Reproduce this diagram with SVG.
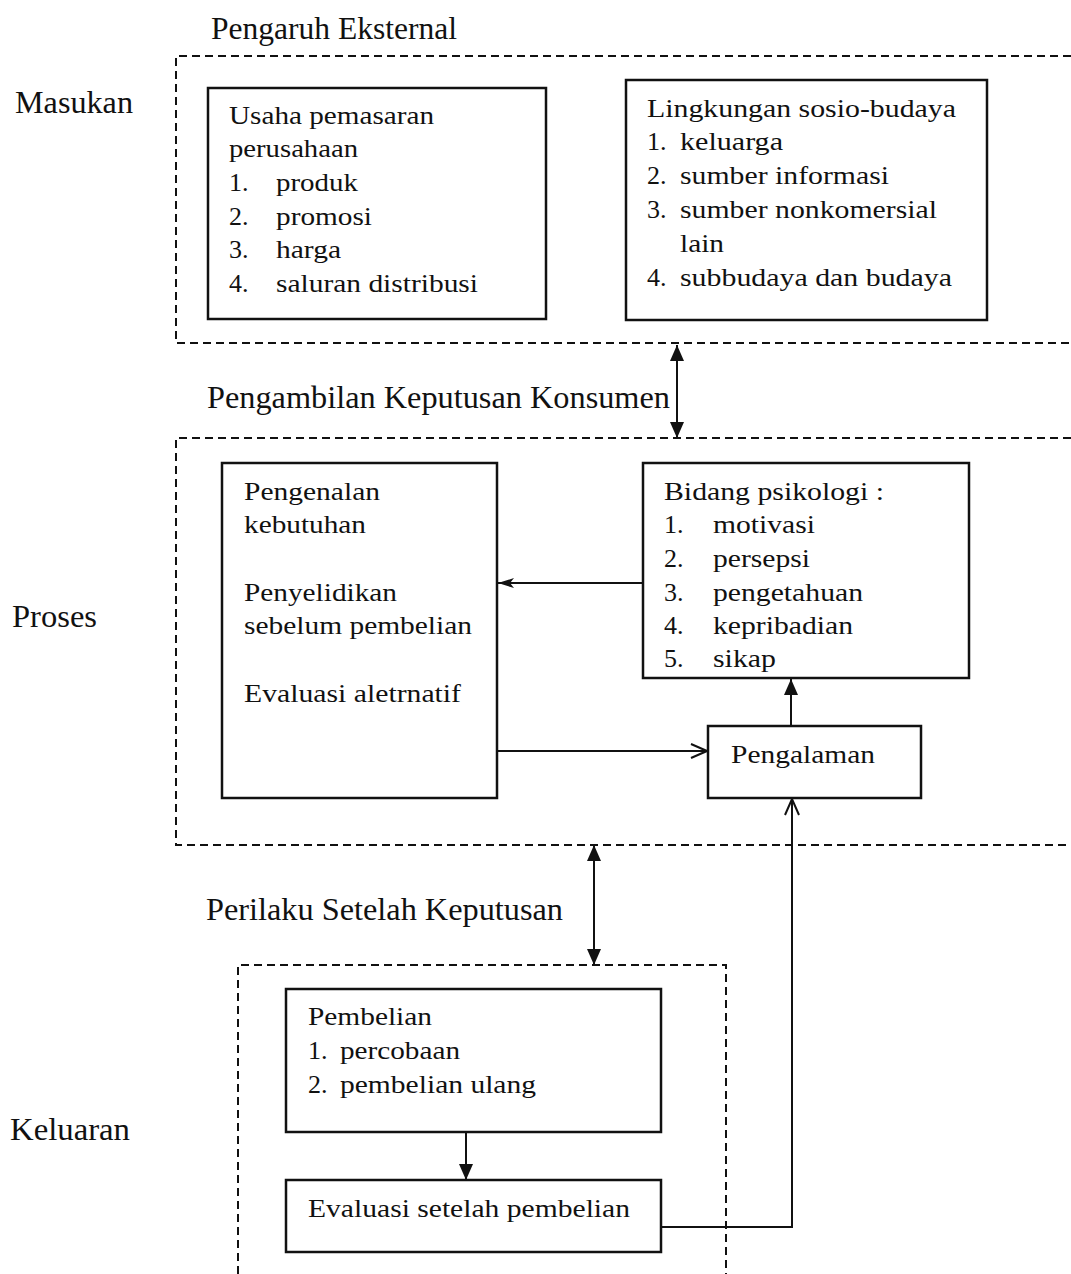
<svg xmlns="http://www.w3.org/2000/svg" width="1071" height="1274" viewBox="0 0 1071 1274">
<style>
  .bg{fill:#ffffff}
  .frame{fill:none;stroke:#111;stroke-width:2;stroke-dasharray:8 5}
  .box{fill:#ffffff;stroke:#111;stroke-width:2.5}
  .conn{fill:none;stroke:#111;stroke-width:2}
  .h{font-family:"Liberation Serif","Times New Roman",serif;font-size:31px;fill:#111}
  .t{font-family:"Liberation Serif","Times New Roman",serif;font-size:26px;fill:#111}
</style>
<defs>
  <marker id="af" viewBox="0 0 16 14" refX="16" refY="7" markerWidth="16" markerHeight="14" markerUnits="userSpaceOnUse" orient="auto-start-reverse">
    <path d="M0,0 L16,7 L0,14 Z" fill="#111"/>
  </marker>
  <marker id="afn" viewBox="0 0 16 10" refX="16" refY="5" markerWidth="16" markerHeight="10" markerUnits="userSpaceOnUse" orient="auto-start-reverse">
    <path d="M0,0 L16,5 L0,10 L4,5 Z" fill="#111"/>
  </marker>
  <marker id="ao" viewBox="0 0 18 16" refX="17" refY="8" markerWidth="18" markerHeight="16" markerUnits="userSpaceOnUse" orient="auto">
    <path d="M1,1 L17,8 L1,15" fill="none" stroke="#111" stroke-width="2"/>
  </marker>
</defs>
<rect class="bg" x="0" y="0" width="1071" height="1274"/>

<g id="frames">
  <path class="frame" d="M1071,56 H176 V343 H1071"/>
  <path class="frame" d="M1071,438 H176 V845 H1071"/>
  <path class="frame" d="M238,1274 V965 H726 V1274"/>
</g>

<g id="labels">
  <text class="h" x="211" y="39" textLength="246" lengthAdjust="spacingAndGlyphs">Pengaruh Eksternal</text>
  <text class="h" x="15" y="113" textLength="118" lengthAdjust="spacingAndGlyphs">Masukan</text>
  <text class="h" x="207" y="408" textLength="463" lengthAdjust="spacingAndGlyphs">Pengambilan Keputusan Konsumen</text>
  <text class="h" x="12" y="627" textLength="85" lengthAdjust="spacingAndGlyphs">Proses</text>
  <text class="h" x="206" y="920" textLength="357" lengthAdjust="spacingAndGlyphs">Perilaku Setelah Keputusan</text>
  <text class="h" x="10" y="1140" textLength="120" lengthAdjust="spacingAndGlyphs">Keluaran</text>
</g>

<g id="connectors">
  <line class="conn" x1="677" y1="345" x2="677" y2="438" marker-start="url(#af)" marker-end="url(#af)"/>
  <line class="conn" x1="643" y1="583" x2="498" y2="583" marker-end="url(#afn)"/>
  <line class="conn" x1="497" y1="751" x2="707" y2="751" marker-end="url(#ao)"/>
  <line class="conn" x1="791" y1="726" x2="791" y2="679" marker-end="url(#af)"/>
  <line class="conn" x1="594" y1="845" x2="594" y2="965" marker-start="url(#af)" marker-end="url(#af)"/>
  <line class="conn" x1="466" y1="1132" x2="466" y2="1180" marker-end="url(#af)"/>
  <polyline class="conn" points="661,1227 792,1227 792,799" marker-end="url(#ao)"/>
</g>

<g id="usaha-pemasaran">
  <rect class="box" x="208" y="88" width="338" height="231"/>
  <text class="t" x="229" y="124" textLength="205" lengthAdjust="spacingAndGlyphs">Usaha pemasaran</text>
  <text class="t" x="229" y="157" textLength="129" lengthAdjust="spacingAndGlyphs">perusahaan</text>
  <text class="t" x="229" y="191">1.</text><text class="t" x="276" y="191" textLength="82" lengthAdjust="spacingAndGlyphs">produk</text>
  <text class="t" x="229" y="225">2.</text><text class="t" x="276" y="225" textLength="96" lengthAdjust="spacingAndGlyphs">promosi</text>
  <text class="t" x="229" y="258">3.</text><text class="t" x="276" y="258" textLength="65" lengthAdjust="spacingAndGlyphs">harga</text>
  <text class="t" x="229" y="292">4.</text><text class="t" x="276" y="292" textLength="202" lengthAdjust="spacingAndGlyphs">saluran distribusi</text>
</g>

<g id="lingkungan-sosio-budaya">
  <rect class="box" x="626" y="80" width="361" height="240"/>
  <text class="t" x="647" y="117" textLength="309" lengthAdjust="spacingAndGlyphs">Lingkungan sosio-budaya</text>
  <text class="t" x="647" y="150">1.</text><text class="t" x="680" y="150" textLength="103" lengthAdjust="spacingAndGlyphs">keluarga</text>
  <text class="t" x="647" y="184">2.</text><text class="t" x="680" y="184" textLength="209" lengthAdjust="spacingAndGlyphs">sumber informasi</text>
  <text class="t" x="647" y="218">3.</text><text class="t" x="680" y="218" textLength="257" lengthAdjust="spacingAndGlyphs">sumber nonkomersial</text>
  <text class="t" x="680" y="252" textLength="44" lengthAdjust="spacingAndGlyphs">lain</text>
  <text class="t" x="647" y="286">4.</text><text class="t" x="680" y="286" textLength="272" lengthAdjust="spacingAndGlyphs">subbudaya dan budaya</text>
</g>

<g id="proses-keputusan">
  <rect class="box" x="222" y="463" width="275" height="335"/>
  <text class="t" x="244" y="500" textLength="136" lengthAdjust="spacingAndGlyphs">Pengenalan</text>
  <text class="t" x="244" y="533" textLength="122" lengthAdjust="spacingAndGlyphs">kebutuhan</text>
  <text class="t" x="244" y="601" textLength="153" lengthAdjust="spacingAndGlyphs">Penyelidikan</text>
  <text class="t" x="244" y="634" textLength="228" lengthAdjust="spacingAndGlyphs">sebelum pembelian</text>
  <text class="t" x="244" y="702" textLength="217" lengthAdjust="spacingAndGlyphs">Evaluasi aletrnatif</text>
</g>

<g id="bidang-psikologi">
  <rect class="box" x="643" y="463" width="326" height="215"/>
  <text class="t" x="664" y="500" textLength="220" lengthAdjust="spacingAndGlyphs">Bidang psikologi :</text>
  <text class="t" x="664" y="533">1.</text><text class="t" x="713" y="533" textLength="102" lengthAdjust="spacingAndGlyphs">motivasi</text>
  <text class="t" x="664" y="567">2.</text><text class="t" x="713" y="567" textLength="97" lengthAdjust="spacingAndGlyphs">persepsi</text>
  <text class="t" x="664" y="601">3.</text><text class="t" x="713" y="601" textLength="150" lengthAdjust="spacingAndGlyphs">pengetahuan</text>
  <text class="t" x="664" y="634">4.</text><text class="t" x="713" y="634" textLength="140" lengthAdjust="spacingAndGlyphs">kepribadian</text>
  <text class="t" x="664" y="667">5.</text><text class="t" x="713" y="667" textLength="63" lengthAdjust="spacingAndGlyphs">sikap</text>
</g>

<g id="pengalaman">
  <rect class="box" x="708" y="726" width="213" height="72"/>
  <text class="t" x="731" y="763" textLength="144" lengthAdjust="spacingAndGlyphs">Pengalaman</text>
</g>

<g id="pembelian">
  <rect class="box" x="286" y="989" width="375" height="143"/>
  <text class="t" x="308" y="1025" textLength="124" lengthAdjust="spacingAndGlyphs">Pembelian</text>
  <text class="t" x="308" y="1059">1.</text><text class="t" x="340" y="1059" textLength="120" lengthAdjust="spacingAndGlyphs">percobaan</text>
  <text class="t" x="308" y="1093">2.</text><text class="t" x="340" y="1093" textLength="196" lengthAdjust="spacingAndGlyphs">pembelian ulang</text>
</g>

<g id="evaluasi-setelah-pembelian">
  <rect class="box" x="286" y="1180" width="375" height="72"/>
  <text class="t" x="308" y="1217" textLength="322" lengthAdjust="spacingAndGlyphs">Evaluasi setelah pembelian</text>
</g>
</svg>
